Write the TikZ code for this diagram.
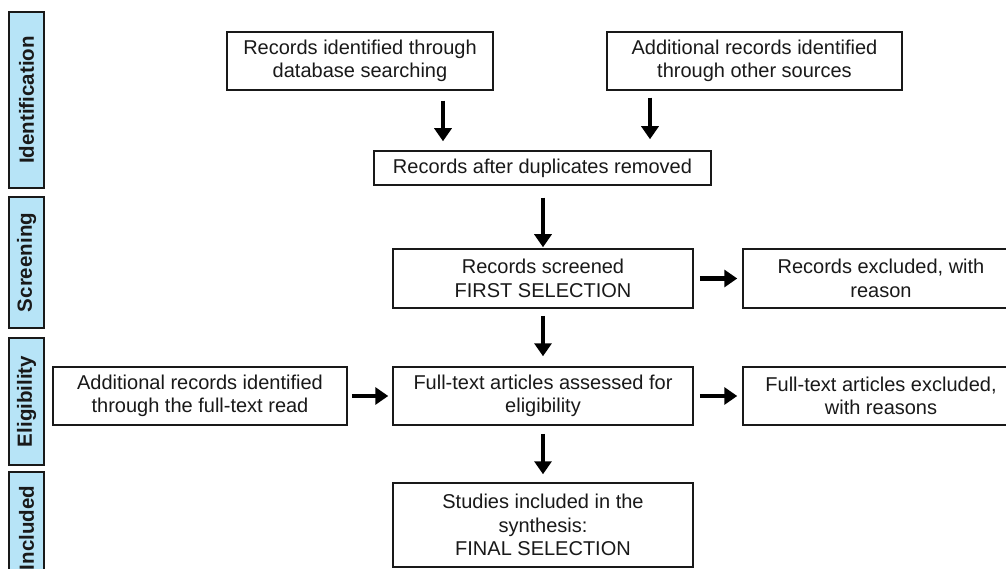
\documentclass[tikz,border=0pt]{standalone}
\usepackage{fontspec}
\setmainfont{Liberation Sans}
\usetikzlibrary{arrows.meta}
\definecolor{barblue}{RGB}{183,228,247}
\definecolor{ink}{RGB}{25,25,25}
\begin{document}
\begin{tikzpicture}[x=1pt,y=-1pt,
  box/.style={draw=ink, line width=1.5pt, fill=white, align=center, inner sep=0pt,
    text=ink, font=\fontsize{20}{23.5}\selectfont},
  bar/.style={draw=ink, line width=1.4pt, fill=barblue, inner sep=0pt, minimum width=35pt,
    text=ink, font=\bfseries\fontsize{20.5}{24}\selectfont},
  arr/.style={line width=4.4pt, draw=black, -{Triangle[width=17pt,length=13pt]}}
]
\useasboundingbox (0,0) rectangle (1006,569);
\clip (0,0) rectangle (1006,569);

% phase bars
\node[bar, minimum height=176pt] (bId) at (26.5,100) {\rotatebox{90}{Identification}};
\node[bar, minimum height=131pt] (bSc) at (26.5,262.5) {\rotatebox{90}{Screening}};
\node[bar, minimum height=127pt] (bEl) at (26.5,401.5) {\rotatebox{90}{Eligibility}};
\node[bar, minimum height=108pt] (bIn) at (26.5,526) {\rotatebox{90}{Included\hspace*{4pt}}};

% boxes
\node[box, minimum width=266pt, minimum height=58pt] (db) at (360,61) {Records identified through\\database searching};
\node[box, minimum width=295pt, minimum height=58pt] (add) at (754.5,61) {Additional records identified\\through other sources};
\node[box, minimum width=337pt, minimum height=34pt] (dup) at (542.5,168) {Records after duplicates removed};
\node[box, minimum width=300pt, minimum height=59pt] (scr) at (543,278.5) {Records screened\\FIRST SELECTION};
\node[box, minimum width=276pt, minimum height=59pt] (exc) at (881,278.5) {Records excluded, with\\reason};
\node[box, minimum width=300pt, minimum height=58pt] (ft) at (543,396) {Full-text articles assessed for\\eligibility};
\node[box, minimum width=276pt, minimum height=58pt] (ftx) at (881,396) {Full-text articles excluded,\\with reasons};
\node[box, minimum width=294pt, minimum height=58pt] (left) at (200,396) {Additional records identified\\through the full-text read};
\node[box, minimum width=300pt, minimum height=84pt] (inc) at (543,525) {Studies included in the\\synthesis:\\FINAL SELECTION};

% connectors
\coordinate (a1) at ([xshift=83pt]db.south);
\coordinate (a2) at ([xshift=-104.5pt]add.south);
\draw[arr, shorten <=10pt, shorten >=9pt] (a1) -- (a1 |- dup.north);
\draw[arr, shorten <=7pt, shorten >=11pt] (a2) -- (a2 |- dup.north);
\draw[arr, shorten <=12pt, shorten >=1pt] (dup.south -| scr.north) -- (scr.north);
\draw[arr, shorten <=7pt, shorten >=10pt] (scr) -- (ft);
\draw[arr, shorten <=8pt, shorten >=8pt] (ft) -- (inc);
\draw[arr, shorten <=6pt, shorten >=5pt] (scr) -- (exc);
\draw[arr, shorten <=6pt, shorten >=5pt] (ft) -- (ftx);
\draw[arr, shorten <=4pt, shorten >=4pt] (left) -- (ft);
\end{tikzpicture}
\end{document}
